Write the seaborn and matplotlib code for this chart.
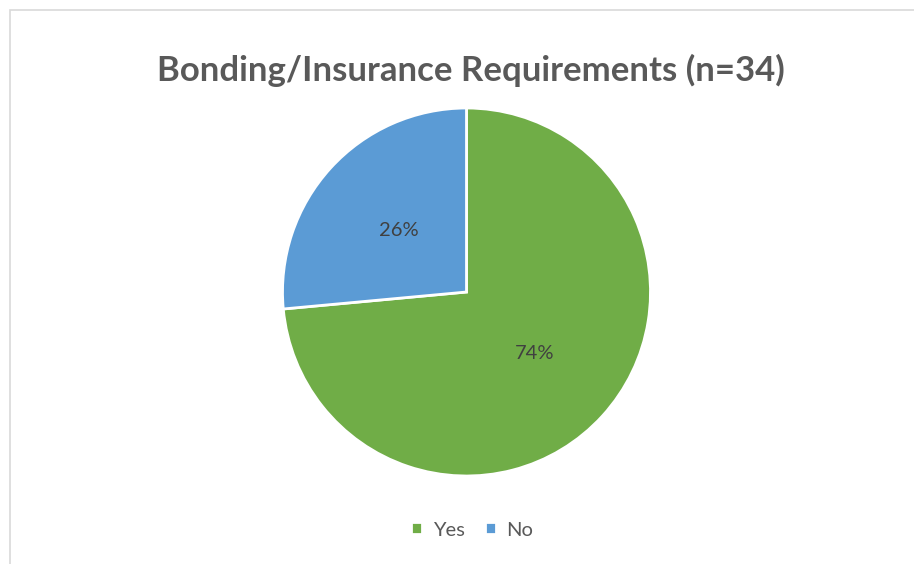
import matplotlib
matplotlib.use("Agg")
import matplotlib.pyplot as plt
from matplotlib.patches import Rectangle
import seaborn as sns

# chart data
labels = ["Yes", "No"]
counts = [25, 9]
colors = ["#70AD47", "#5B9BD5"]
title = "Bonding/Insurance Requirements (n=34)"

sns.set_theme(style="white")
plt.rcParams["font.family"] = ["Lato", "DejaVu Sans"]

W, H = 914, 564
fig = plt.figure(figsize=(W / 100, H / 100), dpi=100)

# light grey chart-area border (open at right/bottom like the screenshot crop)
fig.patches.append(Rectangle((9.5 / W, -0.05), 1.0, (H - 9.5) / H + 0.05,
                             transform=fig.transFigure, fill=False,
                             edgecolor="#D9D9D9", linewidth=1.2))

cx, cy, r = 466.5, 292, 184
ax = fig.add_axes([(cx - r) / W, (H - cy - r) / H, 2 * r / W, 2 * r / H])
wedges, texts, autotexts = ax.pie(
    counts, colors=colors, startangle=90, counterclock=False,
    autopct="%1.0f%%", pctdistance=0.5,
    wedgeprops=dict(edgecolor="white", linewidth=2),
    textprops=dict(color="#404040", fontsize=14.5))
ax.set_xlim(-1, 1)
ax.set_ylim(-1, 1)
ax.set_aspect("equal")

fig.text(471 / W, 1 - 70 / H, title, ha="center", va="center",
         fontsize=25, fontweight="bold", color="#595959")

fig.legend(wedges, labels, loc="center", bbox_to_anchor=(472 / W, 1 - 530 / H),
           ncol=2, frameon=False, handlelength=0.55, handleheight=0.55,
           handletextpad=0.5, columnspacing=1.0,
           prop=dict(size=14.5), labelcolor="#595959")

fig.savefig("out.png", dpi=100)
